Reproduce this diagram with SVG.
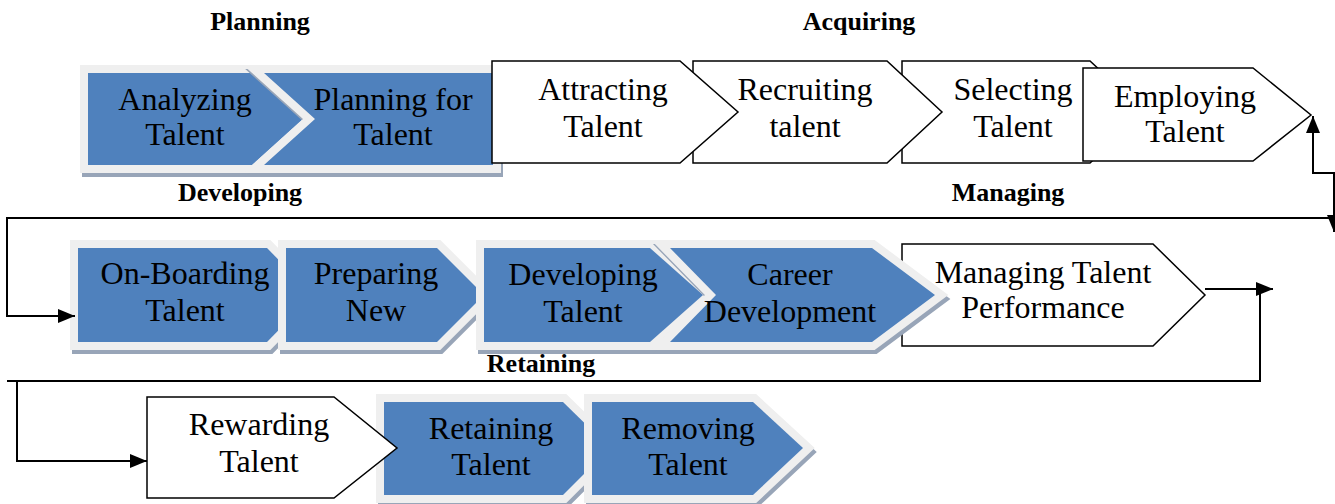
<svg xmlns="http://www.w3.org/2000/svg" width="1335" height="504" viewBox="0 0 1335 504">
<style>
.sh{fill:#98a5b8;stroke:#98a5b8;stroke-width:16;stroke-linejoin:miter}
.fr{fill:#efefef;stroke:#efefef;stroke-width:16;stroke-linejoin:miter}
.bl{fill:#4f81bd}
.wh{fill:#fff;stroke:#000;stroke-width:1.5;stroke-linejoin:miter}
.t{font-family:"Liberation Serif","Times New Roman",serif;font-size:32px;text-anchor:middle;fill:#000}
.h{font-family:"Liberation Serif","Times New Roman",serif;font-size:26px;font-weight:bold;text-anchor:middle;fill:#000}
.c{fill:none;stroke:#000;stroke-width:2}
</style>
<defs>
<marker id="ah" markerUnits="userSpaceOnUse" markerWidth="18" markerHeight="14" refX="17" refY="7" orient="auto">
<path d="M0,0 L17,7 L0,14 Z" fill="#000"/>
</marker>
</defs>
<rect width="1335" height="504" fill="#fff"/>

<g id="labels">
<text class="h" x="260" y="30">Planning</text>
<text class="h" x="859" y="30">Acquiring</text>
<text class="h" x="240" y="201">Developing</text>
<text class="h" x="1008" y="201">Managing</text>
<text class="h" x="541" y="372">Retaining</text>
</g>

<!-- Row 1 -->
<g id="analyzing">
<polygon class="sh" transform="translate(2,4)" points="88,73 252,73 303,119 252,165 88,165"/>
<polygon class="fr" points="88,73 252,73 303,119 252,165 88,165"/>
<polygon class="bl" points="88,73 252,73 303,119 252,165 88,165"/>
<text class="t" x="185" y="110">Analyzing</text>
<text class="t" x="185" y="145">Talent</text>
</g>
<g id="planning">
<polygon class="sh" transform="translate(2,4)" points="264,73 493,73 493,165 264,165 315,119"/>
<polygon class="fr" points="264,73 493,73 493,165 264,165 315,119"/>
<polygon class="bl" points="264,73 493,73 493,165 264,165 315,119"/>
<text class="t" x="393" y="110">Planning for</text>
<text class="t" x="393" y="145">Talent</text>
</g>
<g id="selecting">
<polygon class="wh" points="902,61 1090,61 1145,112 1090,163 902,163"/>
<text class="t" x="1013" y="100">Selecting</text>
<text class="t" x="1013" y="137">Talent</text>
</g>
<g id="recruiting">
<polygon class="wh" points="693,61 887,61 942,112 887,163 693,163"/>
<text class="t" x="805" y="100">Recruiting</text>
<text class="t" x="805" y="137">talent</text>
</g>
<g id="attracting">
<polygon class="wh" points="492,61 680,61 738,112 680,163 492,163"/>
<text class="t" x="603" y="100">Attracting</text>
<text class="t" x="603" y="137">Talent</text>
</g>
<g id="employing">
<polygon class="wh" points="1083,68 1253,68 1311,115 1253,161 1083,161"/>
<text class="t" x="1185" y="107">Employing</text>
<text class="t" x="1185" y="142">Talent</text>
</g>

<!-- Row 2 -->
<g id="onboarding">
<polygon class="sh" transform="translate(2,4)" points="78,248 267,248 313,295 267,342 78,342"/>
<polygon class="fr" points="78,248 267,248 313,295 267,342 78,342"/>
<polygon class="bl" points="78,248 267,248 313,295 267,342 78,342"/>
<text class="t" x="185" y="284">On-Boarding</text>
<text class="t" x="185" y="321">Talent</text>
</g>
<g id="preparing">
<polygon class="sh" transform="translate(2,4)" points="286,248 437,248 484,295 437,342 286,342"/>
<polygon class="fr" points="286,248 437,248 484,295 437,342 286,342"/>
<polygon class="bl" points="286,248 437,248 484,295 437,342 286,342"/>
<text class="t" x="376" y="284">Preparing</text>
<text class="t" x="376" y="321">New</text>
</g>
<g id="developing">
<polygon class="sh" transform="translate(2,4)" points="484,248 650,248 703,295 650,342 484,342"/>
<polygon class="fr" points="484,248 650,248 703,295 650,342 484,342"/>
<polygon class="bl" points="484,248 650,248 703,295 650,342 484,342"/>
<text class="t" x="583" y="285">Developing</text>
<text class="t" x="583" y="322">Talent</text>
</g>
<g id="managing">
<polygon class="wh" points="902,244 1153,244 1205,295 1153,346 902,346"/>
<text class="t" x="1043" y="283">Managing Talent</text>
<text class="t" x="1043" y="318">Performance</text>
</g>
<g id="career">
<polygon class="sh" transform="translate(2,4)" points="670,248 872,248 935,295 872,342 670,342 716,295"/>
<polygon class="fr" points="670,248 872,248 935,295 872,342 670,342 716,295"/>
<polygon class="bl" points="670,248 872,248 935,295 872,342 670,342 716,295"/>
<text class="t" x="790" y="285">Career</text>
<text class="t" x="790" y="322">Development</text>
</g>

<!-- Row 3 -->
<g id="retaining">
<polygon class="sh" transform="translate(2,4)" points="384,402 563,402 610,448 563,495 384,495"/>
<polygon class="fr" points="384,402 563,402 610,448 563,495 384,495"/>
<polygon class="bl" points="384,402 563,402 610,448 563,495 384,495"/>
<text class="t" x="491" y="439">Retaining</text>
<text class="t" x="491" y="475">Talent</text>
</g>
<g id="removing">
<polygon class="sh" transform="translate(2,4)" points="592,402 753,402 803,448 753,495 592,495"/>
<polygon class="fr" points="592,402 753,402 803,448 753,495 592,495"/>
<polygon class="bl" points="592,402 753,402 803,448 753,495 592,495"/>
<text class="t" x="688" y="439">Removing</text>
<text class="t" x="688" y="475">Talent</text>
</g>
<g id="rewarding">
<polygon class="wh" points="147,397 334,397 397,448 334,498 147,498"/>
<text class="t" x="259" y="435">Rewarding</text>
<text class="t" x="259" y="472">Talent</text>
</g>

<g id="connectors">
<path class="c" d="M1335,173 H1313 V116" marker-end="url(#ah)"/>
<path class="c" d="M1334,173 V232" marker-end="url(#ah)"/>
<path class="c" d="M1331,218 H7 V316 H75" marker-end="url(#ah)"/>
<path class="c" d="M1205,289 H1273" marker-end="url(#ah)"/>
<path class="c" d="M1260,289 V381 H7"/>
<path class="c" d="M17,381 V461 H147" marker-end="url(#ah)"/>
</g>
</svg>
